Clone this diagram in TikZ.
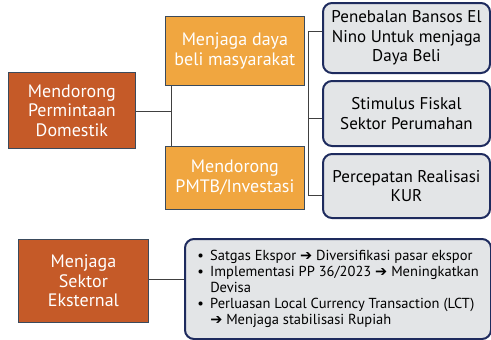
\documentclass[tikz,border=0pt]{standalone}
\usepackage{fontspec}
\setmainfont{PT Sans}
\newfontfamily\symfont{DejaVu Sans}
\definecolor{dkorange}{HTML}{C55A28}
\definecolor{ltorange}{HTML}{F0A640}
\definecolor{boxgrey}{HTML}{E3E5E7}
\definecolor{navy}{HTML}{1E2B5E}
\definecolor{edge}{HTML}{3A4A5C}
\definecolor{conn}{HTML}{404040}
\newcommand{\rarr}{{\symfont\bfseries ➔}}
\begin{document}
\begin{tikzpicture}[x=1pt,y=-1pt,
  dkbox/.style={fill=dkorange, draw=edge, line width=0.8pt, text=white, align=center,
    font=\fontsize{18}{19.5}\selectfont, inner sep=0pt, anchor=north west},
  orbox/.style={fill=ltorange, draw=edge, line width=0.8pt, text=white, align=center,
    font=\fontsize{18}{20}\selectfont, inner sep=0pt, anchor=north west},
  rbox/.style={fill=boxgrey, draw=navy, line width=2pt, rounded corners=9pt, text=black,
    align=center, font=\fontsize{17}{19.5}\selectfont, inner sep=0pt, anchor=north west},
  conline/.style={draw=conn, line width=0.8pt}]
\useasboundingbox (0,0) rectangle (491,340);
% left main box
\node[dkbox, minimum width=127pt, minimum height=76pt] (L1) at (8,72) {Mendorong\\Permintaan\\Domestik};
% orange boxes
\node[orbox, minimum width=139pt, minimum height=69pt] (O1) at (165,16) {Menjaga daya\\beli masyarakat};
\node[orbox, minimum width=139pt, minimum height=63pt] (O2) at (165,146) {Mendorong\\PMTB/Investasi};
% right boxes
\node[rbox, minimum width=167pt, minimum height=70pt] (R1) at (322,2) {Penebalan Bansos El\\Nino Untuk menjaga\\Daya Beli};
\node[rbox, minimum width=167pt, minimum height=65pt] (R2) at (322,80) {Stimulus Fiskal\\Sektor Perumahan};
\node[rbox, minimum width=167pt, minimum height=64pt] (R3) at (322,153) {Percepatan Realisasi\\KUR};
% bottom
\node[dkbox, minimum width=130pt, minimum height=83pt] (E) at (18,239) {Menjaga\\Sektor\\Eksternal};
\node[rbox, minimum width=306pt, minimum height=100pt, align=left,
  font=\fontsize{14.5}{16}\selectfont] (B) at (184,238)
  {\makebox[13pt][l]{\textbullet}Satgas Ekspor \rarr{} Diversifikasi pasar ekspor\\
   \makebox[13pt][l]{\textbullet}Implementasi PP 36/2023 \rarr{} Meningkatkan\\
   \hspace*{13pt}Devisa\\
   \makebox[13pt][l]{\textbullet}Perluasan Local Currency Transaction (LCT)\\
   \hspace*{13pt}\rarr{} Menjaga stabilisasi Rupiah};
% connectors
\coordinate (j1) at (171,111);
\draw[conline] (L1.east |- j1) -- (j1);
\draw[conline] (O1.south -| j1) -- (O2.north -| j1);
\coordinate (b1) at (308,31);
\coordinate (b2) at (308,118);
\coordinate (b3) at (308,195);
\draw[conline] (b1 -| R1.west) -- (b1) -- (b3) -- (b3 -| R3.west);
\draw[conline] (b2) -- (b2 -| R2.west);
\draw[conline] (E.east |- 0,279) -- (B.west |- 0,279);
\end{tikzpicture}
\end{document}
